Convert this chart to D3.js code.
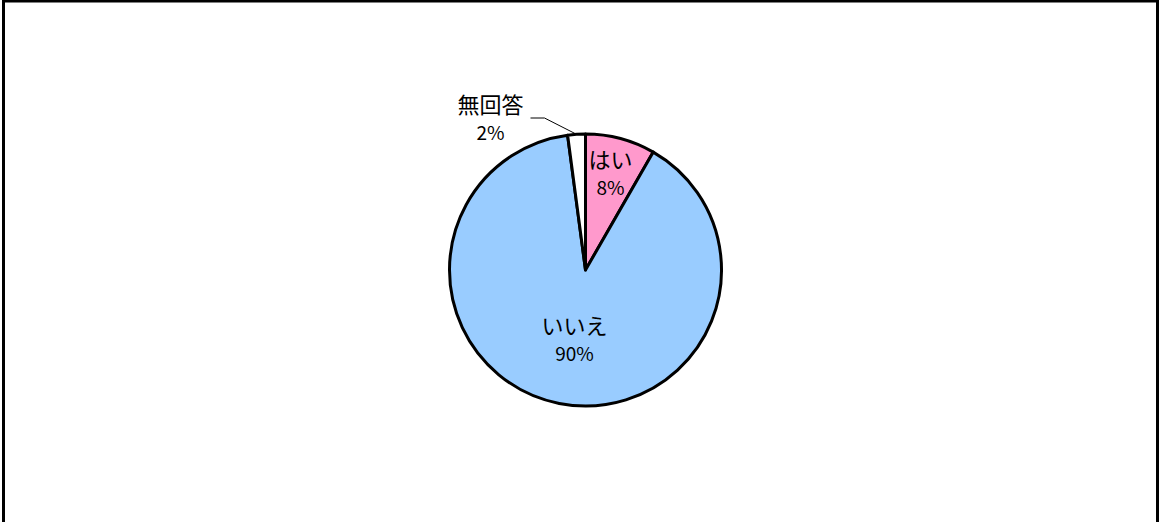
<!DOCTYPE html>
<html>
<head>
<meta charset="utf-8">
<script src="https://cdn.jsdelivr.net/npm/d3@7"></script>
<style>
  body { margin: 0; background: #fff; }
  text { font-family: "Noto Sans CJK JP", sans-serif; fill: #000; }
</style>
</head>
<body>
<div id="chart"></div>
<script>
const labels = ["はい", "いいえ", "無回答"];
const values = [8.3, 89.6, 2.1];
const pctLabels = ["8%", "90%", "2%"];
const colors = ["#FF99CC", "#99CCFF", "#FFFFFF"];

const width = 1160, height = 522;
const cx = 585.5, cy = 270, radius = 136;

const svg = d3.select("#chart").append("svg")
    .attr("width", width)
    .attr("height", height);

// outer frame
svg.append("rect")
    .attr("x", 3.5).attr("y", 1)
    .attr("width", 1154).attr("height", 540)
    .attr("fill", "none")
    .attr("stroke", "#000")
    .attr("stroke-width", 3);

const pie = d3.pie().sort(null).value(d => d);
const arcs = pie(values);
const arc = d3.arc().innerRadius(0).outerRadius(radius);

const g = svg.append("g").attr("transform", `translate(${cx},${cy})`);

g.selectAll("path")
    .data(arcs)
    .enter()
    .append("path")
    .attr("d", arc)
    .attr("fill", (d, i) => colors[i])
    .attr("stroke", "#000")
    .attr("stroke-width", 3)
    .attr("stroke-linejoin", "round");

// label positions relative to the pie center
const labelPos = [
    [25, -102],
    [-11, 64],
    [-95, -157]
];

labelPos.forEach((p, i) => {
    g.append("text")
        .attr("x", p[0]).attr("y", p[1])
        .attr("text-anchor", "middle")
        .style("font-size", "22px")
        .text(labels[i]);
    g.append("text")
        .attr("x", p[0]).attr("y", p[1] + 27)
        .attr("text-anchor", "middle")
        .style("font-size", "19px")
        .text(pctLabels[i]);
});

// leader line for the small slice
const mid = (arcs[2].startAngle + arcs[2].endAngle) / 2;
const edge = [Math.sin(mid) * radius, -Math.cos(mid) * radius];
g.append("polyline")
    .attr("points", [[-55, -152], [-41, -152], edge].map(p => p.join(",")).join(" "))
    .attr("fill", "none")
    .attr("stroke", "#000")
    .attr("stroke-width", 1);
</script>
</body>
</html>
